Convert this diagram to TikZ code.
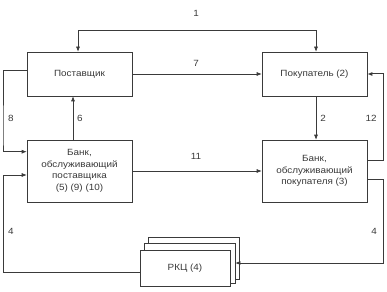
\documentclass[tikz,border=0pt]{standalone}
\usepackage{fontspec}
\setmainfont{Liberation Sans}[FakeStretch=1.1]
\usetikzlibrary{arrows.meta}
\definecolor{ink}{HTML}{3A3A3A}
\tikzset{
  box/.style={draw=ink, line width=0.6pt, fill=white, text=ink, align=center,
    minimum width=105pt, inner sep=0pt, font=\fontsize{9}{11.5}\selectfont},
  rkcbox/.style={draw=ink, line width=0.6pt, fill=white, text=ink,
    minimum width=91pt, minimum height=36pt, inner sep=0pt, font=\fontsize{9}{11.5}\selectfont},
  conn/.style={draw=ink, line width=0.6pt, -{Latex[length=5pt,width=4pt]}},
  lbl/.style={text=ink, inner sep=0pt, font=\fontsize{9}{11}\selectfont}
}
\begin{document}
\begin{tikzpicture}[x=1pt,y=-1pt]
\useasboundingbox (0,0) rectangle (387,291);
\node[box, minimum height=44pt] (sup) at (79.5,74) {Поставщик};
\node[box, minimum height=44pt] (buy) at (314.5,74) {Покупатель (2)};
\node[box, minimum height=62pt] (bs) at (79.5,171) {Банк,\\обслуживающий\\поставщика\\(5) (9) (10)};
\node[box, minimum height=62pt] (bb) at (314.5,171) {Банк,\\обслуживающий\\покупателя (3)};
\node[rkcbox, minimum height=42pt] (rkc3) at (193.5,258) {};
\node[rkcbox, minimum width=91pt, minimum height=40pt] (rkc2) at (189.5,263) {};
\node[rkcbox, minimum width=90pt] (rkc) at (185,268) {РКЦ (4)};
\coordinate (top) at (0,30);
\coordinate (lx) at (3,0);
\coordinate (rx) at (383,0);
\coordinate (ry) at (0,263);
% 1
\draw[draw=ink, line width=0.6pt, {Latex[length=5pt,width=4pt]}-{Latex[length=5pt,width=4pt]}]
  ([xshift=-1.5pt]sup.north) -- ([xshift=-1.5pt]sup.north |- top) -- ([xshift=1.5pt]buy.north |- top) -- ([xshift=1.5pt]buy.north);
% 7
\draw[conn] (sup.east) -- (buy.west);
% 2
\draw[conn] ([xshift=1.5pt]buy.south) -- ([xshift=1.5pt]bb.north);
% 6
\draw[conn] ([xshift=-6.5pt]bs.north) -- ([xshift=-6.5pt]sup.south);
% 11
\draw[conn] (bs.east) -- (bb.west);
% 8
\draw[conn] ([yshift=4pt]sup.west) -| (lx |- bs.north) -- ([yshift=-12pt]lx |- bs.north) -- ([yshift=-12pt]bs.north west);
% 12
\draw[conn, line width=1pt] ([yshift=11pt]bb.east) -| (rx |- buy.east) -- (buy.east);
% 4 left
\draw[conn] ([yshift=-4pt]rkc.west) -| ([yshift=-4pt]lx |- bs.west) -- ([yshift=-4pt]bs.west);
% 4 right
\draw[conn] ([yshift=-8pt]bb.east) -| (rx |- ry) -- (rkc2.east |- ry);
% labels
\node[lbl] (l1) at (196,13) {1};
\node[lbl] (l7) at (196,63) {7};
\node[lbl] (l2) at (323,118) {2};
\node[lbl] (l12) at (371,118) {12};
\node[lbl] (l6) at (80,118) {6};
\node[lbl] (l8) at (11,118) {8};
\node[lbl] (l11) at (196,156) {11};
\node[lbl] (l4a) at (11,231) {4};
\node[lbl] (l4b) at (374,231) {4};
\end{tikzpicture}
\end{document}
